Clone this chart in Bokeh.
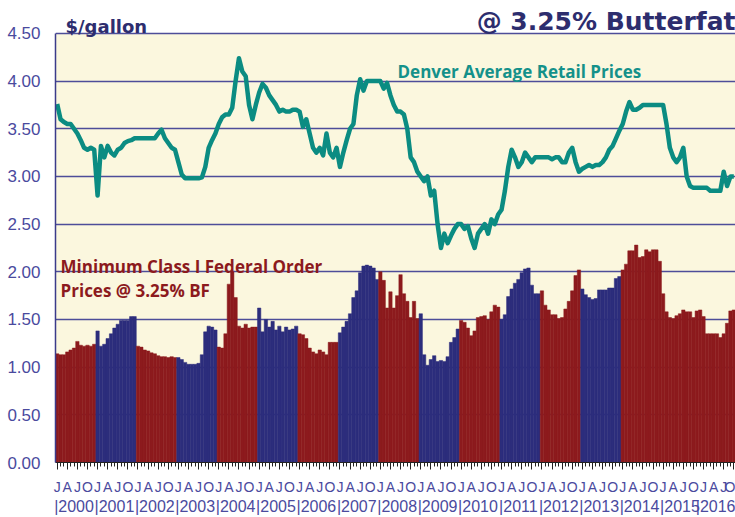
from bokeh.plotting import figure
from bokeh.models import (Range1d, FixedTicker, LinearAxis, Label,
                          NumeralTickFormatter, ColumnDataSource, BoxAnnotation)
from bokeh.embed import file_html
from bokeh.resources import INLINE

# ---------------- data ----------------
years = list(range(2000, 2017))

class1_prices = [
    # 2000
    1.14, 1.13, 1.13, 1.16, 1.18, 1.20, 1.27, 1.23, 1.22, 1.23, 1.22, 1.24,
    # 2001
    1.38, 1.22, 1.24, 1.30, 1.35, 1.41, 1.45, 1.49, 1.49, 1.49, 1.53, 1.53,
    # 2002
    1.22, 1.21, 1.18, 1.17, 1.15, 1.14, 1.12, 1.11, 1.11, 1.10, 1.11, 1.10,
    # 2003
    1.10, 1.08, 1.05, 1.03, 1.03, 1.03, 1.04, 1.13, 1.37, 1.43, 1.42, 1.39,
    # 2004
    1.21, 1.20, 1.35, 1.87, 2.00, 1.73, 1.43, 1.41, 1.45, 1.41, 1.42, 1.42,
    # 2005
    1.62, 1.37, 1.50, 1.42, 1.48, 1.39, 1.43, 1.37, 1.42, 1.39, 1.40, 1.43,
    # 2006
    1.35, 1.34, 1.30, 1.20, 1.16, 1.14, 1.18, 1.16, 1.13, 1.26, 1.26, 1.26,
    # 2007
    1.36, 1.42, 1.48, 1.56, 1.73, 1.80, 1.99, 2.06, 2.07, 2.06, 2.04, 1.92,
    # 2008
    2.00, 1.91, 1.62, 1.79, 1.62, 1.75, 1.97, 1.77, 1.69, 1.52, 1.69, 1.51,
    # 2009
    1.56, 1.13, 1.02, 1.08, 1.12, 1.06, 1.07, 1.06, 1.11, 1.26, 1.31, 1.40,
    # 2010
    1.49, 1.47, 1.41, 1.33, 1.38, 1.52, 1.53, 1.54, 1.50, 1.58, 1.65, 1.63,
    # 2011
    1.50, 1.55, 1.74, 1.82, 1.88, 1.92, 1.99, 2.03, 2.04, 1.86, 1.77, 1.77,
    # 2012
    1.80, 1.65, 1.60, 1.55, 1.55, 1.51, 1.52, 1.61, 1.69, 1.80, 1.96, 2.02,
    # 2013
    1.82, 1.76, 1.73, 1.71, 1.72, 1.81, 1.81, 1.81, 1.83, 1.83, 1.93, 1.95,
    # 2014
    2.02, 2.08, 2.22, 2.22, 2.28, 2.15, 2.16, 2.23, 2.21, 2.23, 2.23, 2.11,
    # 2015
    1.77, 1.58, 1.52, 1.51, 1.54, 1.56, 1.60, 1.58, 1.58, 1.52, 1.59, 1.60,
    # 2016
    1.53, 1.35, 1.35, 1.35, 1.35, 1.31, 1.35, 1.46, 1.59, 1.60,
]

retail_prices = [
    # 2000
    3.76, 3.60, 3.57, 3.55, 3.55, 3.50, 3.45, 3.38, 3.30, 3.28, 3.30, 3.28,
    # 2001
    2.80, 3.32, 3.20, 3.32, 3.25, 3.22, 3.28, 3.30, 3.35, 3.37, 3.38, 3.40,
    # 2002
    3.40, 3.40, 3.40, 3.40, 3.40, 3.40, 3.45, 3.49, 3.40, 3.35, 3.30, 3.28,
    # 2003
    3.15, 3.02, 2.98, 2.98, 2.98, 2.98, 2.98, 2.99, 3.10, 3.30, 3.38, 3.45,
    # 2004
    3.55, 3.62, 3.65, 3.65, 3.72, 4.00, 4.24, 4.10, 4.05, 3.75, 3.60, 3.75,
    # 2005
    3.88, 3.97, 3.93, 3.85, 3.80, 3.75, 3.68, 3.70, 3.68, 3.68, 3.70, 3.70,
    # 2006
    3.68, 3.52, 3.60, 3.45, 3.30, 3.25, 3.30, 3.22, 3.45, 3.25, 3.20, 3.30,
    # 2007
    3.10, 3.25, 3.38, 3.50, 3.55, 3.85, 4.02, 3.90, 4.00, 4.00, 4.00, 4.00,
    # 2008
    4.00, 3.92, 3.98, 3.85, 3.75, 3.68, 3.68, 3.65, 3.50, 3.20, 3.15, 3.05,
    # 2009
    3.00, 2.95, 3.00, 2.80, 2.85, 2.50, 2.25, 2.40, 2.30, 2.38, 2.45, 2.50,
    # 2010
    2.50, 2.45, 2.48, 2.35, 2.25, 2.40, 2.45, 2.50, 2.40, 2.55, 2.50, 2.60,
    # 2011
    2.65, 2.85, 3.10, 3.28, 3.20, 3.10, 3.15, 3.25, 3.20, 3.15, 3.20, 3.20,
    # 2012
    3.20, 3.20, 3.20, 3.18, 3.20, 3.20, 3.15, 3.15, 3.25, 3.30, 3.15, 3.05,
    # 2013
    3.08, 3.10, 3.12, 3.10, 3.12, 3.12, 3.15, 3.20, 3.28, 3.32, 3.40, 3.48,
    # 2014
    3.55, 3.68, 3.78, 3.70, 3.70, 3.72, 3.75, 3.75, 3.75, 3.75, 3.75, 3.75,
    # 2015
    3.75, 3.55, 3.30, 3.20, 3.15, 3.20, 3.30, 3.00, 2.90, 2.88, 2.88, 2.88,
    # 2016
    2.88, 2.88, 2.85, 2.85, 2.85, 2.85, 3.05, 2.90, 3.00, 3.00,
]

quarter_letters = ["J", "A", "J", "O"]
y_ticks = [0.0, 0.5, 1.0, 1.5, 2.0, 2.5, 3.0, 3.5, 4.0, 4.5]

RED = "#8c1a1d"
BLUE = "#2c2d7c"
TEAL = "#0b8c82"
CREAM = "#fbf7de"
NAVY_TXT = "#2d2d6e"
AXIS_TXT = "#4a4a9e"

year_colors = [RED, BLUE, RED, BLUE, RED, BLUE, RED, BLUE, RED, BLUE,
               RED, BLUE, RED, BLUE, RED, RED, RED]

# ---------------- figure ----------------
n = len(class1_prices)
months = list(range(n))
bar_colors = [year_colors[i // 12] for i in months]
src = ColumnDataSource(dict(x=months, top=class1_prices, color=bar_colors))

p = figure(width=735, height=517, output_backend="svg", toolbar_location=None,
           x_range=Range1d(-0.5, n - 0.5), y_range=Range1d(0, 4.845),
           min_border_left=55, min_border_right=0, min_border_top=0,
           min_border_bottom=53,
           background_fill_color="white", border_fill_color="white",
           outline_line_color=None)

# cream plotting area up to 4.50 (white above it, where the headings sit)
p.add_layout(BoxAnnotation(bottom=0, top=4.5, fill_color=CREAM, fill_alpha=1.0,
                           line_color=None, level="image"))

p.vbar(x="x", top="top", width=1.0, fill_color="color", line_color="color",
       line_width=0.5, source=src)
p.line(months, retail_prices, line_color=TEAL, line_width=4.5,
       line_join="round")

# y axis
p.yaxis.ticker = FixedTicker(ticks=y_ticks)
p.yaxis.bounds = (0, 4.5)
p.yaxis.formatter = NumeralTickFormatter(format="0.00")
p.yaxis.major_tick_out = 0
p.yaxis.major_tick_in = 0
p.yaxis.minor_tick_out = 0
p.yaxis.minor_tick_in = 0
p.yaxis.axis_line_color = "#3b3b8a"
p.yaxis.axis_line_width = 1.5
p.yaxis.major_label_text_font = "Liberation Sans"
p.yaxis.major_label_text_font_size = "17px"
p.yaxis.major_label_text_color = AXIS_TXT
p.yaxis.major_label_standoff = 15

p.xgrid.visible = False
p.ygrid.ticker = FixedTicker(ticks=y_ticks)
p.ygrid.grid_line_color = "#4d4d99"
p.ygrid.grid_line_width = 1.5

# x axis 1: quarter letters
quarter_ticks = list(range(0, n, 3))
xa = p.xaxis[0]
xa.ticker = FixedTicker(ticks=quarter_ticks, minor_ticks=months)
xa.major_label_overrides = {t: quarter_letters[(t // 3) % 4] for t in quarter_ticks}
xa.major_tick_out = 7
xa.major_tick_in = 0
xa.minor_tick_out = 4
xa.minor_tick_in = 0
xa.major_tick_line_color = "#222222"
xa.minor_tick_line_color = "#222222"
xa.axis_line_color = "#222222"
xa.major_label_text_font = "Liberation Sans"
xa.major_label_text_font_size = "14px"
xa.major_label_text_color = AXIS_TXT
xa.major_label_standoff = 9

# x axis 2: years
year_ticks = [12 * k + 5 for k in range(len(years))]
xa2 = LinearAxis(ticker=FixedTicker(ticks=year_ticks),
                 major_label_overrides={t: "|" + str(y) for t, y in zip(year_ticks, years)})
xa2.axis_line_color = None
xa2.major_tick_line_color = None
xa2.minor_tick_line_color = None
xa2.major_tick_out = 0
xa2.major_tick_in = 0
xa2.minor_tick_out = 0
xa2.minor_tick_in = 0
xa2.major_label_standoff = 0
xa2.major_label_text_font = "Liberation Sans"
xa2.major_label_text_font_size = "16px"
xa2.major_label_text_color = AXIS_TXT
p.add_layout(xa2, "below")

# texts (baselines in data units)
p.add_layout(Label(x=101.1, y=4.096, text="Denver Average Retail Prices",
                   text_baseline="alphabetic",
                   text_font="Open Sans", text_font_style="bold",
                   text_font_size="17px", text_color="#14918a"))
p.add_layout(Label(x=1.0, y=2.06, text="Minimum Class I Federal Order",
                   text_baseline="alphabetic",
                   text_font="Open Sans", text_font_style="bold",
                   text_font_size="17px", text_color=RED))
p.add_layout(Label(x=1.0, y=1.80, text="Prices @ 3.25% BF",
                   text_baseline="alphabetic",
                   text_font="Open Sans", text_font_style="bold",
                   text_font_size="17px", text_color=RED))
p.add_layout(Label(x=2.47, y=4.573, text="$/gallon",
                   text_baseline="alphabetic",
                   text_font="DejaVu Sans", text_font_style="bold",
                   text_font_size="18px", text_color=NAVY_TXT))
p.add_layout(Label(x=n - 0.5, y=4.625, text="@ 3.25% Butterfat",
                   text_align="right", text_baseline="alphabetic",
                   text_font="DejaVu Sans", text_font_style="bold",
                   text_font_size="25px", text_color=NAVY_TXT))

open("out.html", "w").write(file_html(p, INLINE))
